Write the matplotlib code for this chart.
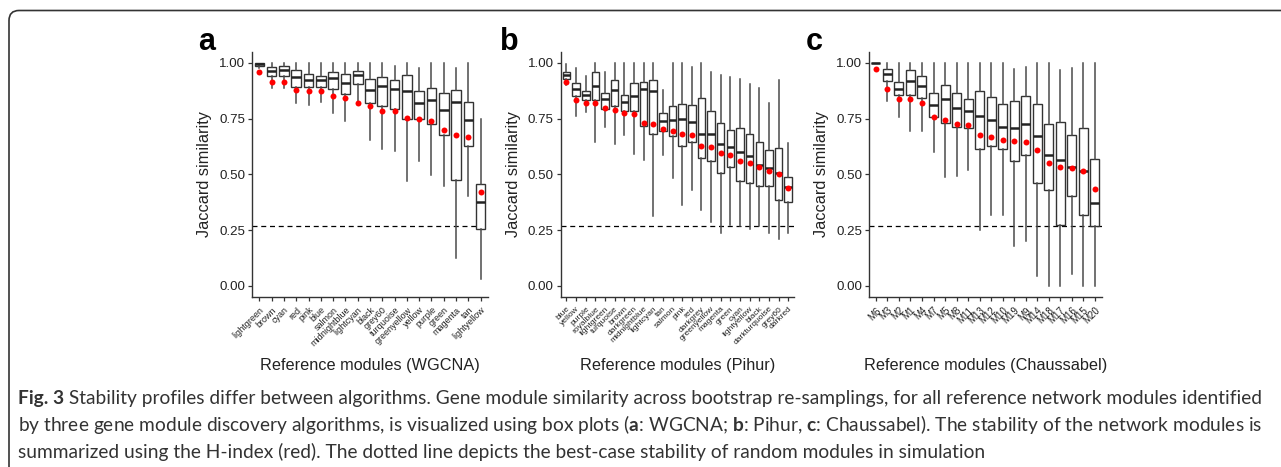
#!/usr/bin/env python3
"""Stability profiles (Jaccard similarity across bootstraps) for three module discovery algorithms."""

import matplotlib
matplotlib.use("Agg")
import matplotlib.pyplot as plt
from matplotlib.patches import FancyBboxPatch
from matplotlib.transforms import IdentityTransform

plt.rcParams["font.family"] = ["Liberation Sans", "DejaVu Sans"]
plt.rcParams["mathtext.fontset"] = "custom"
plt.rcParams["mathtext.rm"] = "Lato"
plt.rcParams["mathtext.bf"] = "Lato:bold"

# --- panel a: WGCNA ---
wgcna_labels = ["lightgreen", "brown", "cyan", "red", "pink", "blue", "salmon",
                "midnightblue", "lightcyan", "black", "grey60", "turquoise",
                "greenyellow", "yellow", "purple", "green", "magenta", "tan",
                "lightyellow"]
wgcna_lo = [0.975, 0.887, 0.887, 0.82, 0.81, 0.825, 0.776, 0.737, 0.83, 0.654,
            0.612, 0.606, 0.468, 0.562, 0.498, 0.446, 0.126, 0.401, 0.03]
wgcna_q1 = [0.985, 0.943, 0.942, 0.892, 0.892, 0.892, 0.884, 0.862, 0.906, 0.82,
            0.805, 0.795, 0.75, 0.747, 0.728, 0.676, 0.475, 0.627, 0.253]
wgcna_med = [0.997, 0.964, 0.97, 0.936, 0.921, 0.921, 0.933, 0.909, 0.945, 0.877,
             0.896, 0.881, 0.874, 0.822, 0.832, 0.79, 0.825, 0.743, 0.377]
wgcna_q3 = [1.0, 0.98, 0.985, 0.966, 0.948, 0.94, 0.961, 0.951, 0.964, 0.929,
            0.936, 0.924, 0.945, 0.872, 0.887, 0.865, 0.88, 0.825, 0.458]
wgcna_hi = [1.0, 1.0, 1.0, 1.0, 1.0, 1.0, 1.0, 1.0, 1.0, 1.0,
            1.0, 0.988, 1.0, 0.978, 1.0, 1.0, 0.978, 1.0, 0.75]
wgcna_h = [0.96, 0.914, 0.914, 0.877, 0.872, 0.872, 0.851, 0.842, 0.82, 0.805,
           0.785, 0.785, 0.753, 0.747, 0.74, 0.701, 0.675, 0.667, 0.42]

# --- panel b: Pihur ---
pihur_labels = ["blue", "yellow", "purple", "royalblue", "lightgreen", "turquoise",
                "brown", "darkgreen", "midnightblue", "lightcyan", "tan", "salmon",
                "pink", "red", "darkgrey", "greenyellow", "magenta", "green", "cyan",
                "lightyellow", "black", "darkturquoise", "grey60", "darkred"]
pihur_lo = [0.90, 0.761, 0.78, 0.646, 0.713, 0.634, 0.676, 0.59, 0.565, 0.312,
            0.587, 0.483, 0.361, 0.431, 0.342, 0.285, 0.238, 0.275, 0.267, 0.253,
            0.267, 0.235, 0.212, 0.238]
pihur_q1 = [0.927, 0.85, 0.832, 0.832, 0.795, 0.805, 0.783, 0.783, 0.716, 0.679,
            0.694, 0.67, 0.627, 0.646, 0.575, 0.56, 0.505, 0.532, 0.468, 0.461,
            0.449, 0.446, 0.383, 0.376]
pihur_med = [0.945, 0.883, 0.854, 0.897, 0.84, 0.88, 0.823, 0.853, 0.881, 0.872,
             0.741, 0.743, 0.747, 0.734, 0.679, 0.679, 0.634, 0.624, 0.602, 0.582,
             0.542, 0.527, 0.505, 0.443]
pihur_q3 = [0.957, 0.909, 0.874, 0.957, 0.866, 0.923, 0.857, 0.908, 0.915, 0.923,
            0.773, 0.805, 0.817, 0.81, 0.844, 0.783, 0.731, 0.701, 0.709, 0.682,
            0.646, 0.609, 0.617, 0.487]
pihur_hi = [0.995, 0.978, 0.94, 1.0, 0.958, 1.0, 1.0, 1.0, 1.0, 1.0,
            0.88, 1.0, 1.0, 0.981, 1.0, 0.958, 0.945, 0.936, 0.929, 0.906,
            0.889, 0.82, 0.921, 0.639]
pihur_h = [0.914, 0.835, 0.822, 0.82, 0.798, 0.79, 0.777, 0.77, 0.731, 0.725,
           0.704, 0.695, 0.681, 0.676, 0.627, 0.624, 0.594, 0.587, 0.562, 0.55,
           0.532, 0.516, 0.502, 0.44]

# --- panel c: Chaussabel ---
chaus_labels = ["M6", "M3", "M2", "M1", "M4", "M7", "M5", "M8", "M11", "M13",
                "M12", "M10", "M19", "M9", "M14", "M18", "M17", "M16", "M15", "M20"]
chaus_lo = [1.0, 0.829, 0.755, 0.695, 0.695, 0.602, 0.49, 0.493, 0.52, 0.25,
            0.316, 0.316, 0.178, 0.2, 0.045, 0.0, 0.0, 0.052, 0.0, 0.0]
chaus_q1 = [1.0, 0.918, 0.854, 0.857, 0.844, 0.755, 0.732, 0.713, 0.706, 0.615,
            0.627, 0.612, 0.56, 0.587, 0.461, 0.428, 0.273, 0.403, 0.319, 0.269]
chaus_med = [1.0, 0.951, 0.884, 0.918, 0.894, 0.81, 0.837, 0.798, 0.785, 0.762,
             0.743, 0.713, 0.709, 0.727, 0.673, 0.587, 0.563, 0.532, 0.514, 0.37]
chaus_q3 = [1.0, 0.972, 0.914, 0.966, 0.939, 0.865, 0.902, 0.866, 0.837, 0.872,
            0.847, 0.817, 0.828, 0.853, 0.817, 0.724, 0.733, 0.678, 0.71, 0.569]
chaus_hi = [1.0, 1.0, 1.0, 1.0, 1.0, 1.0, 1.0, 1.0, 1.0, 1.0,
            1.0, 1.0, 0.973, 0.981, 1.0, 1.0, 0.97, 0.978, 1.0, 1.0]
chaus_h = [0.972, 0.881, 0.84, 0.837, 0.82, 0.755, 0.743, 0.728, 0.721, 0.676,
           0.669, 0.654, 0.649, 0.643, 0.608, 0.551, 0.535, 0.527, 0.514, 0.435]

random_best = 0.27  # best-case stability of random modules (dotted line)

caption_title = "Fig. 3"
caption_lines = [
    " Stability profiles differ between algorithms. Gene module similarity "
    "across bootstrap re-samplings, for all reference network modules identified",
    r"by three gene module discovery algorithms, is visualized using box plots "
    r"($\mathbf{a}$: WGCNA; $\mathbf{b}$: Pihur, $\mathbf{c}$: Chaussabel). "
    r"The stability of the network modules is",
    "summarized using the H-index (red). The dotted line depicts the best-case "
    "stability of random modules in simulation",
]

W, H = 1281, 467
INK = "#222222"


def draw_panel(ax, labels, lo, q1, med, q3, hi, hidx, xlabel, tick_fs):
    stats = [dict(whislo=a, q1=b, med=c, q3=d, whishi=e, fliers=[])
             for a, b, c, d, e in zip(lo, q1, med, q3, hi)]
    pos = list(range(1, len(labels) + 1))
    ax.axhline(random_best, color="black", lw=0.9, ls=(0, (4, 3)), zorder=1)
    ax.bxp(stats, positions=pos, widths=0.78, showcaps=False, showfliers=False,
           patch_artist=True,
           boxprops=dict(facecolor="white", edgecolor="#333333", lw=1.0),
           whiskerprops=dict(color="#4a4a4a", lw=1.1),
           medianprops=dict(color=INK, lw=1.8),
           zorder=2)
    ax.plot(pos, hidx, "o", color="red", ms=4.3, mec="none", zorder=5)

    ax.set_xlim(0.4, len(labels) + 0.6)
    ax.set_ylim(-0.05, 1.05)
    ax.set_yticks([0, 0.25, 0.5, 0.75, 1.0])
    ax.set_yticklabels([f"{v:.2f}" for v in [0, 0.25, 0.5, 0.75, 1.0]])
    ax.set_xticks(pos)
    ax.set_xticklabels(labels, rotation=45, ha="right", va="top",
                       rotation_mode="anchor", fontsize=tick_fs)
    ax.tick_params(axis="y", labelsize=9.6, length=3, width=0.9, color="#333333",
                   labelcolor=INK, pad=2)
    ax.tick_params(axis="x", length=3, width=0.9, color="#333333",
                   labelcolor=INK, pad=3)
    for side in ("top", "right"):
        ax.spines[side].set_visible(False)
    for side in ("left", "bottom"):
        ax.spines[side].set_color("#333333")
        ax.spines[side].set_linewidth(1.0)
    ax.set_ylabel("Jaccard similarity", fontsize=11.7, color=INK, labelpad=5)
    ax.set_xlabel(xlabel, fontsize=11.7, color=INK)
    ax.xaxis.set_label_coords(0.5, -(358 - 297) / 245.0)
    ax.xaxis.label.set_va("top")


def main():
    fig = plt.figure(figsize=(W / 100, H / 100), dpi=100)

    bottom = (H - 297) / H
    height = (297 - 51.7) / H
    ax_a = fig.add_axes([252 / W, bottom, 236 / W, height])
    ax_b = fig.add_axes([560.7 / W, bottom, 233.3 / W, height])
    ax_c = fig.add_axes([869 / W, bottom, 232.7 / W, height])

    draw_panel(ax_a, wgcna_labels, wgcna_lo, wgcna_q1, wgcna_med, wgcna_q3,
               wgcna_hi, wgcna_h, "Reference modules (WGCNA)", 6.5)
    draw_panel(ax_b, pihur_labels, pihur_lo, pihur_q1, pihur_med, pihur_q3,
               pihur_hi, pihur_h, "Reference modules (Pihur)", 6.0)
    draw_panel(ax_c, chaus_labels, chaus_lo, chaus_q1, chaus_med, chaus_q3,
               chaus_hi, chaus_h, "Reference modules (Chaussabel)", 7.0)

    for letter, x in [("a", 198), ("b", 500), ("c", 806)]:
        fig.text(x / W, 1 - 50 / H, letter, fontsize=22, fontweight="bold",
                 color="black", va="baseline", ha="left")

    # outer rounded frame (right and bottom edges fall outside the image)
    frame = FancyBboxPatch((9, -40), W + 40, H - 10 + 40 - 0.5,
                           boxstyle="round,pad=0,rounding_size=10",
                           transform=IdentityTransform(), fill=False,
                           ec="#333333", lw=1.2)
    fig.add_artist(frame)

    # caption: bold title, then three lines fitted to the reference width
    baselines = [404, 431, 458]
    fs0 = 13
    title = fig.text(18 / W, 1 - baselines[0] / H, caption_title, fontsize=fs0,
                     family="Lato", fontweight="bold", color="#333333",
                     va="baseline", ha="left")
    caps = [fig.text(18 / W, 1 - b / H, s, fontsize=fs0, family="Lato",
                     color="#333333", va="baseline", ha="left")
            for s, b in zip(caption_lines, baselines)]
    fig.canvas.draw()
    r = fig.canvas.get_renderer()
    full = title.get_window_extent(r).width + caps[0].get_window_extent(r).width
    fs = fs0 * (1240 / full)
    title.set_fontsize(fs)
    for t in caps:
        t.set_fontsize(fs)
    fig.canvas.draw()
    x1 = title.get_window_extent(r).x1
    caps[0].set_x(x1 / W)

    fig.savefig("out.png", dpi=100)
    plt.close(fig)


if __name__ == "__main__":
    main()
